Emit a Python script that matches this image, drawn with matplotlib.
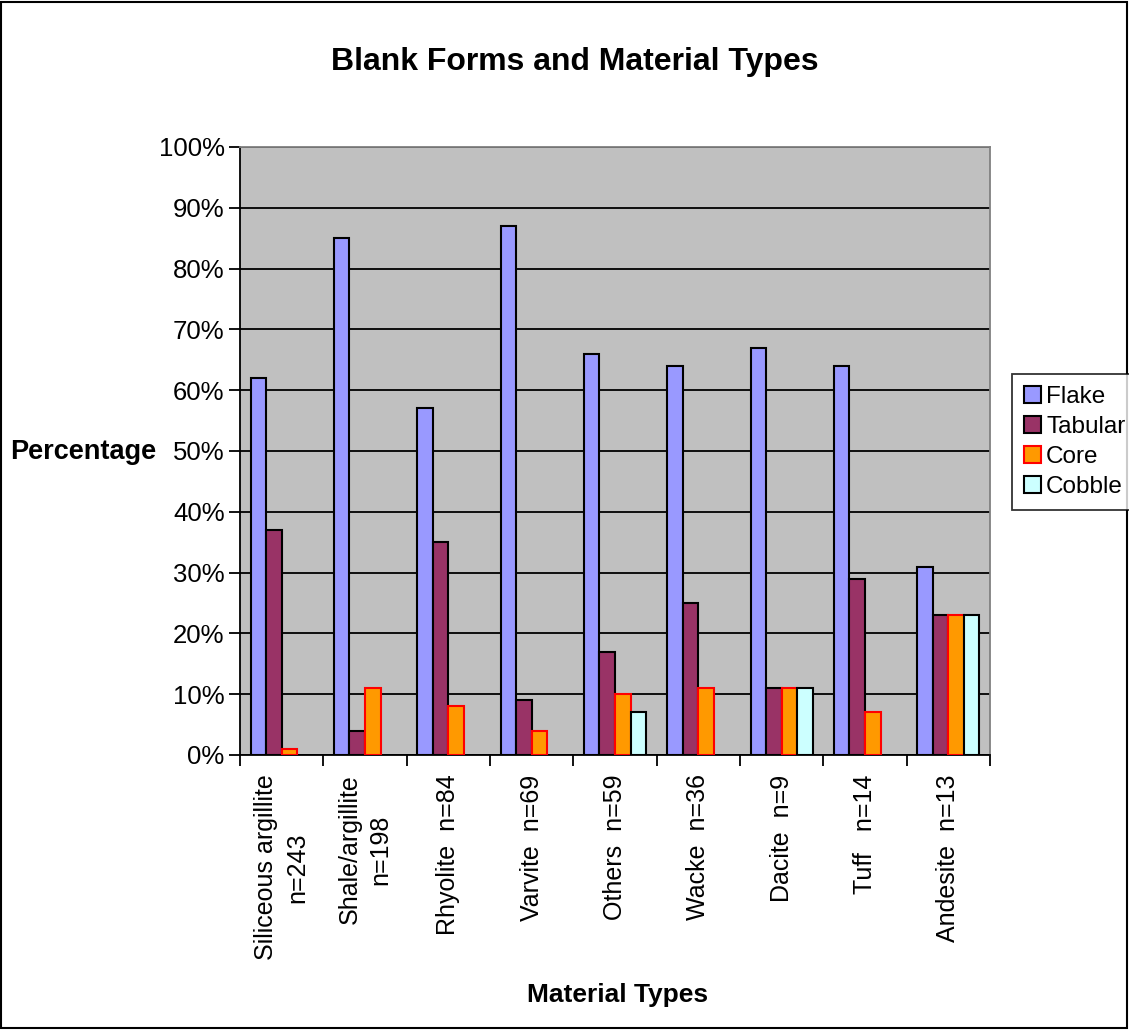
import matplotlib.pyplot as plt
import numpy as np
from matplotlib.patches import Rectangle

plt.rcParams['font.family'] = ['Liberation Sans', 'DejaVu Sans']

materials = ['Siliceous argillite\nn=243', 'Shale/argillite\nn=198', 'Rhyolite  n=84',
             'Varvite  n=69', 'Others  n=59', 'Wacke  n=36', 'Dacite  n=9',
             'Tuff   n=14', 'Andesite  n=13']
flake = [62, 85, 57, 87, 66, 64, 67, 64, 31]
tabular = [37, 4, 35, 9, 17, 25, 11, 29, 23]
core = [1, 11, 8, 4, 10, 11, 11, 7, 23]
cobble = [0, 0, 0, 0, 7, 0, 11, 0, 23]

series = [('Flake', flake, '#9999FF', 'black'),
          ('Tabular', tabular, '#993366', 'black'),
          ('Core', core, '#FF9900', '#FF0000'),
          ('Cobble', cobble, '#CCFFFF', 'black')]

fig = plt.figure(figsize=(11.29, 10.30), dpi=100)
fig.patches.append(Rectangle((0.001, 0.002), 0.997, 0.996, transform=fig.transFigure,
                             fill=False, edgecolor='black', linewidth=1.5))
ax = fig.add_axes([240 / 1129, 1 - 755 / 1030, 750 / 1129, 608 / 1030])
ax.set_facecolor('#C0C0C0')

x = np.arange(len(materials))
w = 0.187
for i, (name, vals, col, ec) in enumerate(series):
    h = [v if v > 0 else np.nan for v in vals]
    ax.bar(x + (i - 1.5) * w, h, w, color=col, edgecolor=ec, linewidth=1.5, label=name,
           zorder=3)

ax.set_xlim(-0.5, len(materials) - 0.5)
ax.set_ylim(0, 100)
ax.set_yticks(range(0, 101, 10))
ax.set_yticklabels([f'{v}%' for v in range(0, 101, 10)], fontsize=18.5)
ax.yaxis.grid(True, color='black', linewidth=1.3, zorder=0)
ax.set_axisbelow(True)
ax.set_xticks(np.arange(-0.5, len(materials), 1))
ax.set_xticklabels([])
ax.set_xticks(x, minor=True)
ax.set_xticklabels(materials, minor=True, rotation=90, fontsize=18, ha='center', va='top',
                   multialignment='center', linespacing=1.35)
ax.tick_params(axis='x', which='minor', length=0, pad=14)
ax.tick_params(axis='x', which='major', length=8, width=1.3, direction='out')
ax.tick_params(axis='y', length=8, width=1.3, direction='out', pad=3)

for s in ['left', 'bottom']:
    ax.spines[s].set_color('black')
    ax.spines[s].set_linewidth(1.3)
for s in ['top', 'right']:
    ax.spines[s].set_color('#808080')
    ax.spines[s].set_linewidth(1.3)

fig.text(575 / 1129, 1 - 62 / 1030, 'Blank Forms and Material Types', ha='center',
         va='center', fontsize=23, fontweight='bold')
fig.text(83 / 1129, 1 - 452 / 1030, 'Percentage', ha='center', va='center', fontsize=19.5,
         fontweight='bold')
fig.text(618 / 1129, 1 - 995 / 1030, 'Material Types', ha='center', va='center',
         fontsize=19, fontweight='bold')

leg = fig.legend(loc='upper left', bbox_to_anchor=(1012 / 1129, 1 - 374 / 1030),
                 fontsize=17.5, frameon=True, fancybox=False, edgecolor='black',
                 handlelength=0.7, handleheight=0.7, handletextpad=0.2,
                 borderpad=0.5, labelspacing=0.32, borderaxespad=0)
leg.get_frame().set_linewidth(1.3)

fig.savefig('out.png', dpi=100)
plt.close(fig)
